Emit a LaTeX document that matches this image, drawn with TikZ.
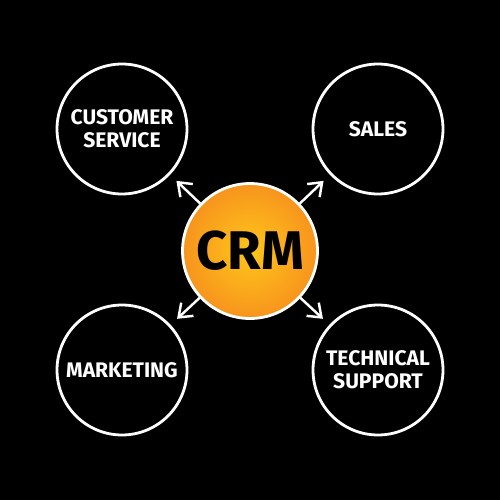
\documentclass[tikz,border=0pt]{standalone}
\usepackage{fontspec}
\setmainfont{Fira Sans}
\usepackage{tikz}
\usetikzlibrary{shapes, arrows.meta, positioning}
\definecolor{crmin}{HTML}{FFC61A}
\definecolor{crmout}{HTML}{F7941D}

\begin{document}
\begin{tikzpicture}
  [
    x=0.02cm, y=-0.02cm,
    Topic/.style={circle, draw=white, line width=1.6pt, fill=black, text=white, minimum size=2.6cm, align=center, font=\bfseries\fontsize{12}{13}\selectfont},
    Hub/.style={circle, draw=white, line width=1.6pt, shading=radial, inner color=crmin, outer color=crmout, minimum size=2.7cm, font=\bfseries\fontsize{31}{33}\selectfont},
    Link/.style={-{Straight Barb[length=2.4mm, width=3.6mm]}, draw=white, line width=1.4pt, shorten <=0pt, shorten >=5pt}
  ]
  \fill[black] (0,0) rectangle (500,500);
  % Nodes
  \node[Hub] (crm) at(250, 251) {CRM};
  \node[Topic] (service) at(122, 129) {CUSTOMER\\SERVICE};
  \node[Topic] (sales) at(378, 129) {SALES};
  \node[Topic] (marketing) at(122, 370) {MARKETING};
  \node[Topic] (support) at(378, 370) {TECHNICAL\\SUPPORT};
  % Lines
  \path [Link] (crm) -- (service);
  \path [Link] (crm) -- (sales);
  \path [Link] (crm) -- (marketing);
  \path [Link] (crm) -- (support);
\end{tikzpicture}
\end{document}
